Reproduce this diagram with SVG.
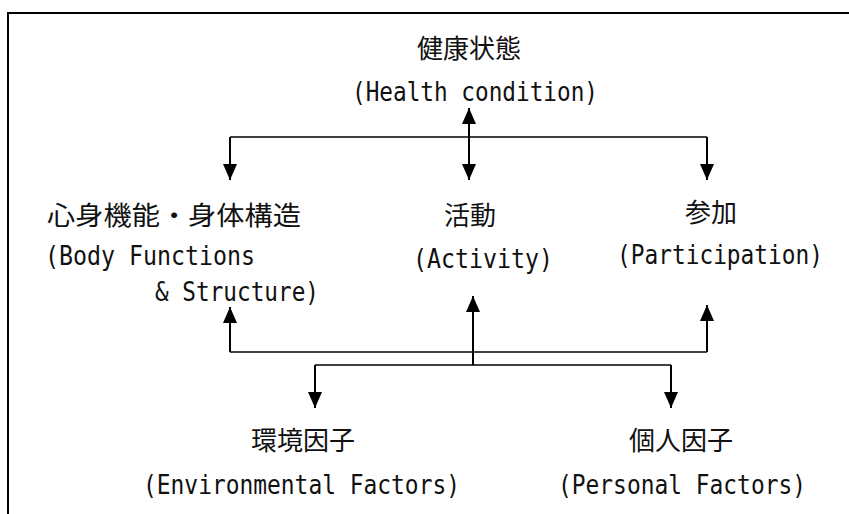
<svg xmlns="http://www.w3.org/2000/svg" width="849" height="514" viewBox="0 0 849 514">
<defs>
<marker id="ah" markerUnits="userSpaceOnUse" markerWidth="17" markerHeight="15" refX="16" refY="7" orient="auto-start-reverse" viewBox="0 0 17 15">
<path d="M0,0 L16,7 L0,14 z" fill="#000"/>
</marker>
<style>
.jp{font-family:"Noto Sans CJK JP","Noto Sans CJK SC",sans-serif;font-size:26px;fill:#111;text-anchor:middle}
.en{font-family:"DejaVu Sans Mono","Liberation Mono",monospace;font-size:26px;fill:#111}
.v{stroke:#000;stroke-width:2;fill:none}
.h{stroke:#000;stroke-width:1.5;fill:none}
.frame{stroke:#000;stroke-width:2;fill:none}
</style>
</defs>
<rect width="849" height="514" fill="#fff"/>
<path class="frame" d="M8,514 V13 H849"/>
<g id="connectors">
<path class="v" d="M469,108 V180" marker-start="url(#ah)" marker-end="url(#ah)"/>
<path class="h" d="M230,137 H707"/>
<path class="v" d="M230,137 V180" marker-end="url(#ah)"/>
<path class="v" d="M707,137 V180" marker-end="url(#ah)"/>
<path class="h" d="M230,352 H707"/>
<path class="v" d="M230,352 V307" marker-end="url(#ah)"/>
<path class="v" d="M707,352 V305" marker-end="url(#ah)"/>
<path class="v" d="M473,365 V296" marker-end="url(#ah)"/>
<path class="h" d="M315,365 H671"/>
<path class="v" d="M315,365 V408" marker-end="url(#ah)"/>
<path class="v" d="M671,365 V408" marker-end="url(#ah)"/>
</g>
<g id="health">
<text class="jp" x="469" y="58">健康状態</text>
<text class="en" x="352" y="101" textLength="246" lengthAdjust="spacingAndGlyphs">(Health condition)</text>
</g>
<g id="body">
<text class="jp" x="174" y="225" textLength="254" lengthAdjust="spacingAndGlyphs">心身機能・身体構造</text>
<text class="en" x="45" y="265" textLength="210" lengthAdjust="spacingAndGlyphs">(Body Functions</text>
<text class="en" x="155" y="301" textLength="164" lengthAdjust="spacingAndGlyphs">&amp; Structure)</text>
</g>
<g id="activity">
<text class="jp" x="470" y="225">活動</text>
<text class="en" x="413" y="268" textLength="140" lengthAdjust="spacingAndGlyphs">(Activity)</text>
</g>
<g id="participation">
<text class="jp" x="711" y="222">参加</text>
<text class="en" x="617" y="264" textLength="206" lengthAdjust="spacingAndGlyphs">(Participation)</text>
</g>
<g id="environment">
<text class="jp" x="303" y="450">環境因子</text>
<text class="en" x="143" y="494" textLength="317" lengthAdjust="spacingAndGlyphs">(Environmental Factors)</text>
</g>
<g id="personal">
<text class="jp" x="681" y="450">個人因子</text>
<text class="en" x="558" y="494" textLength="248" lengthAdjust="spacingAndGlyphs">(Personal Factors)</text>
</g>
</svg>
